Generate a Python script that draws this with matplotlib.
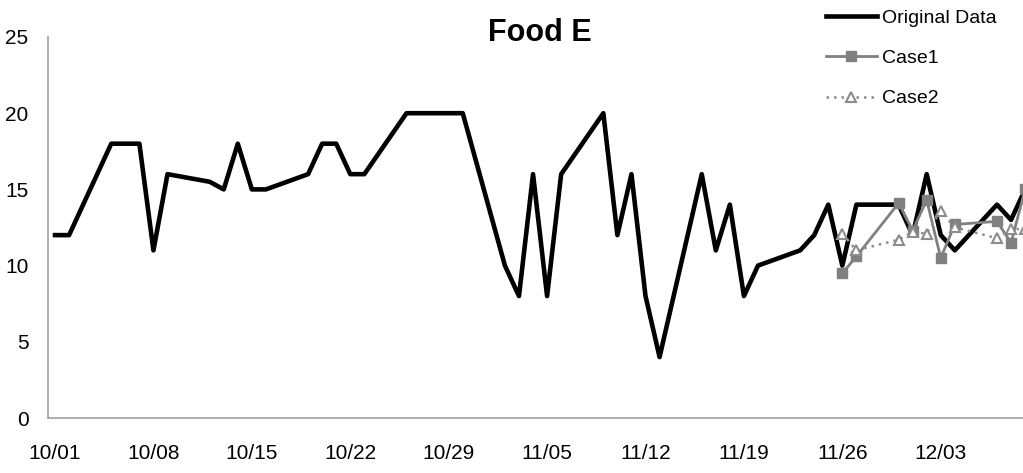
import numpy as np
import pandas as pd
import matplotlib
matplotlib.use('Agg')
import matplotlib.pyplot as plt
import matplotlib.dates as mdates

plt.rcParams['font.family'] = ['Liberation Sans', 'DejaVu Sans']

start = pd.Timestamp('2010-10-01')

# Original data (day offset from 10/01, value)
orig_days = [0, 1, 4, 6, 7, 8, 11, 12, 13, 14, 15, 18, 19, 20, 21, 22, 25, 29,
             32, 33, 34, 35, 36, 39, 40, 41, 42, 43, 46, 47, 48, 49, 50, 53, 54,
             55, 56, 57, 60, 61, 62, 63, 64, 67, 68, 69]
orig_vals = [12, 12, 18, 18, 11, 16, 15.5, 15, 18, 15, 15, 16, 18, 18, 16, 16, 20, 20,
             10, 8, 16, 8, 16, 20, 12, 16, 8, 4, 16, 11, 14, 8, 10, 11, 12,
             14, 10, 14, 14, 12, 16, 12, 11, 14, 13, 15]

case1_days = [56, 57, 60, 61, 62, 63, 64, 67, 68, 69]
case1_vals = [9.5, 10.6, 14.1, 12.3, 14.3, 10.5, 12.7, 12.9, 11.5, 15]

case2_days = [56, 57, 60, 61, 62, 63, 64, 67, 68, 69]
case2_vals = [12.1, 11.0, 11.7, 12.2, 12.1, 13.6, 12.5, 11.8, 12.4, 12.4]

tick_days = [0, 7, 14, 21, 28, 35, 42, 49, 56, 63]

orig_x = start + pd.to_timedelta(orig_days, unit='D')
case1_x = start + pd.to_timedelta(case1_days, unit='D')
case2_x = start + pd.to_timedelta(case2_days, unit='D')
ticks = start + pd.to_timedelta(tick_days, unit='D')

fig = plt.figure(figsize=(10.23, 4.73), dpi=100)
ax = fig.add_axes([48 / 1023, 55 / 473, 975 / 1023, 381 / 473])

ax.plot(orig_x, orig_vals, color='black', lw=3.3, label='Original Data', zorder=2)
ax.plot(case1_x, case1_vals, color='#808080', lw=2.0, marker='s', ms=6.5,
        label='Case1', zorder=3)
ax.plot(case2_x, case2_vals, color='#8c8c8c', lw=1.8, ls=(0, (1, 2)), marker='^',
        ms=6.5, mfc='white', mec='#8c8c8c', mew=1.5, label='Case2', zorder=3)

ax.set_ylim(0, 25)
ax.set_yticks([0, 5, 10, 15, 20, 25])
ax.set_xlim(start - pd.Timedelta(days=0.5), start + pd.Timedelta(days=68.85))
ax.set_xticks(ticks)
ax.xaxis.set_major_formatter(mdates.DateFormatter('%m/%d'))

for s in ['top', 'right']:
    ax.spines[s].set_visible(False)
for s in ['left', 'bottom']:
    ax.spines[s].set_color('#a0a0a0')
    ax.spines[s].set_linewidth(1.2)

ax.tick_params(axis='both', length=0, labelsize=15)
ax.tick_params(axis='y', pad=14)
ax.tick_params(axis='x', pad=19)

fig.text(540 / 1023, 1 - 33 / 473, 'Food E', ha='center', va='center',
         fontsize=22, fontweight='bold')

leg = fig.legend(loc='upper left', bbox_to_anchor=(826 / 1023, 1 - 9 / 473),
                 frameon=False, fontsize=14, handlelength=2.6, handletextpad=0.3,
                 labelspacing=1.17, borderpad=0, borderaxespad=0)

fig.savefig('out.png', dpi=100)
